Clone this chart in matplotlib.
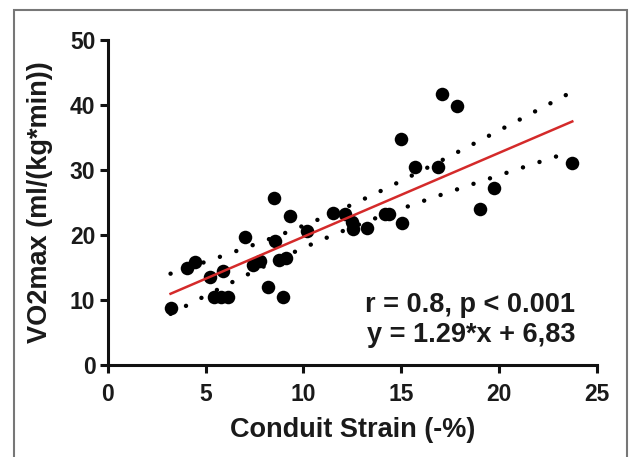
import numpy as np
import matplotlib
matplotlib.use('Agg')
import matplotlib.pyplot as plt
from matplotlib.patches import Rectangle

plt.rcParams['font.family'] = ['Liberation Sans', 'DejaVu Sans']

# conduit strain (-%) and VO2max
strain = [3.2, 4.05, 4.45, 5.22, 5.4, 5.8, 6.15, 5.9, 7.03, 7.43, 7.8, 8.18,
          8.48, 8.56, 8.75, 9.08, 8.94, 9.31, 10.18, 11.52, 12.12, 12.5, 12.55,
          13.27, 14.15, 14.35, 15.02, 15.0, 15.72, 16.9, 17.07, 17.87, 19.03,
          19.72, 23.75]
vo2max = [8.8, 15.0, 15.8, 13.5, 10.5, 10.5, 10.5, 14.5, 19.7, 15.4, 16.0, 12.0,
          25.7, 19.0, 16.2, 16.5, 10.5, 22.9, 20.6, 23.4, 23.3, 22.0, 20.9,
          21.1, 23.2, 23.3, 21.9, 34.7, 30.4, 30.4, 41.7, 39.9, 24.0,
          27.2, 31.0]
fit_slope = 1.29
fit_intercept = 6.83
xticks = [0, 5, 10, 15, 20, 25]
yticks = [0, 10, 20, 30, 40, 50]

x = np.array(strain)
y = np.array(vo2max)
n = len(x)

# 95% confidence band of the regression line
xs = np.linspace(x.min(), x.max(), 200)
yfit = fit_slope * xs + fit_intercept
resid = y - (fit_slope * x + fit_intercept)
s = np.sqrt(np.sum(resid**2) / (n - 2))
sxx = np.sum((x - x.mean())**2)
t = 2.035
half = t * s * np.sqrt(1.0 / n + (xs - x.mean())**2 / sxx)

fig = plt.figure(figsize=(6.29, 4.57), dpi=100)
ax = fig.add_axes([0.1717, 0.2013, 0.777, 0.7112])

ax.scatter(x, y, s=95, color='black', zorder=3, linewidths=0)
ax.plot(xs, yfit, color='#d42a2a', lw=1.8, zorder=4)
dots = dict(color='black', lw=3.2, linestyle=(0, (0.01, 3.9)),
            dash_capstyle='round', zorder=2)
ax.plot(xs, yfit + half, **dots)
ax.plot(xs, yfit - half, **dots)

ax.set_xlim(0, 25)
ax.set_ylim(0, 50)
ax.set_xticks(xticks)
ax.set_yticks(yticks)
for side in ['top', 'right']:
    ax.spines[side].set_visible(False)
for side in ['left', 'bottom']:
    ax.spines[side].set_linewidth(2.2)
    ax.spines[side].set_color('#111111')
ax.tick_params(width=2.2, length=6, color='#111111', labelsize=16.5,
               labelcolor='#1a1a1a')
ax.tick_params(axis='x', pad=7)
ax.tick_params(axis='y', pad=3)
for lab in ax.get_xticklabels() + ax.get_yticklabels():
    lab.set_fontweight('bold')

ax.set_xlabel('Conduit Strain (-%)', fontsize=19.5, fontweight='bold',
              color='#1a1a1a', labelpad=8)
ax.set_ylabel('VO2max (ml/(kg*min))', fontsize=19.5, fontweight='bold',
              color='#1a1a1a', labelpad=12)

ax.text(23.9, 6.9, 'r = 0.8, p < 0.001\ny = 1.29*x + 6,83', ha='right',
        va='center', fontsize=19.5, fontweight='bold', color='#1a1a1a',
        linespacing=1.22)

# grey frame around the panel
fig.patches.append(Rectangle((14 / 629, -0.05), 613 / 629, 1 - 10 / 457 + 0.05,
                             transform=fig.transFigure, fill=False,
                             edgecolor='#777777', lw=1.5))

fig.savefig('out.png', dpi=100)
